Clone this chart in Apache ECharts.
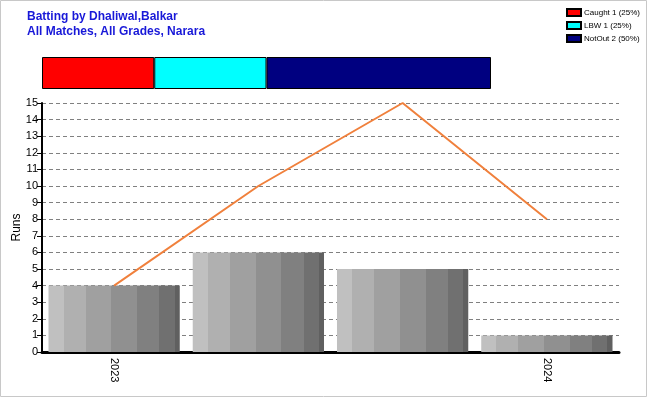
<!DOCTYPE html>
<html><head><meta charset="utf-8">
<script src="https://cdn.jsdelivr.net/npm/echarts@6/dist/echarts.min.js"></script>
<style>html,body{margin:0;padding:0;background:#fff}#c{width:650px;height:400px}</style>
</head><body><div id="c"></div>
<script>
const categories = ['2023', '2023-b', '2024-a', '2024'];
const tickLabels = ['2023', '', '', '2024'];
const barValues = [4, 6, 5, 1];
const lineValues = [4, 10, 15, 8];
const dismissalNames = ['Caught', 'LBW', 'NotOut'];
const dismissalCounts = [1, 1, 2];
const dismissalColors = ['#ff0000', '#00ffff', '#000080'];

const total = dismissalCounts.reduce((a, b) => a + b, 0);
const chart = echarts.init(document.getElementById('c'));
const stripes = ['#c0c0c0', '#b0b0b0', '#a0a0a0', '#909090', '#808080', '#707070', '#606060'];
const cuts = [0, 0.115, 0.282, 0.48, 0.676, 0.844, 0.96, 1];
const stops = [];
stripes.forEach((c, i) => { stops.push({offset: cuts[i], color: c}); stops.push({offset: cuts[i + 1], color: c}); });

const dismissalSeries = dismissalNames.map((n, i) => ({
  name: n + ' ' + dismissalCounts[i] + ' (' + Math.round(dismissalCounts[i] / total * 100) + '%)',
  type: 'bar', stack: 'd', xAxisIndex: 1, yAxisIndex: 1, barWidth: '100%',
  data: [dismissalCounts[i]],
  itemStyle: {color: dismissalColors[i], borderColor: '#000', borderWidth: 1},
  silent: true
}));

chart.setOption({
  animation: false,
  textStyle: {fontFamily: 'Arial, "Liberation Sans", sans-serif'},
  title: {
    text: 'Batting by Dhaliwal,Balkar\nAll Matches, All Grades, Narara',
    left: 22, top: 4,
    textStyle: {color: '#1818d8', fontSize: 12, fontWeight: 'bold', lineHeight: 15, fontFamily: 'Arial, "Liberation Sans", sans-serif'}
  },
  legend: {
    orient: 'vertical', left: 561, top: 3, itemGap: 4, itemWidth: 14, itemHeight: 7, icon: 'rect',
    textStyle: {fontSize: 8, color: '#000', padding: [0, 0, 0, -2]},
    data: dismissalSeries.map(s => s.name), selectedMode: false
  },
  grid: [
    {left: 42, right: 31, top: 103, bottom: 48, containLabel: false, outerBoundsMode: 'none'},
    {left: 42, right: 159, top: 57, height: 32, containLabel: false, outerBoundsMode: 'none'}
  ],
  xAxis: [
    {
      type: 'category', data: categories, gridIndex: 0,
      axisLine: {lineStyle: {color: '#000', width: 3}},
      axisTick: {alignWithLabel: true, length: 5, lineStyle: {color: '#000'}},
      axisLabel: {rotate: -90, fontSize: 11, color: '#000', margin: 6, interval: 0,
        formatter: (v, i) => tickLabels[i]}
    },
    {type: 'value', gridIndex: 1, min: 0, max: total, show: false}
  ],
  yAxis: [
    {
      type: 'value', gridIndex: 0, min: 0, max: 15, interval: 1,
      name: 'Runs', nameLocation: 'middle', nameGap: 19, nameRotate: 90, nameMoveOverlap: false,
      nameTextStyle: {fontSize: 12, color: '#000'},
      axisLine: {show: true, lineStyle: {color: '#000', width: 2}},
      axisTick: {show: true, length: 5, lineStyle: {color: '#000'}},
      axisLabel: {fontSize: 11, color: '#000', margin: 4},
      splitLine: {lineStyle: {color: '#808080', type: [4, 3], width: 1}}
    },
    {type: 'category', gridIndex: 1, data: ['d'], show: false}
  ],
  series: [
    {
      type: 'bar', data: barValues, barCategoryGap: '9%',
      itemStyle: {color: {type: 'linear', x: 0, y: 0, x2: 1, y2: 0, colorStops: stops}},
      silent: true
    },
    {
      type: 'line', data: lineValues, showSymbol: false, z: 5,
      lineStyle: {color: '#f0803c', width: 2}, silent: true
    }
  ].concat(dismissalSeries),
  graphic: [{
    type: 'rect', shape: {x: 0.5, y: 0.5, width: 646, height: 396},
    style: {fill: 'none', stroke: '#c8c8c8', lineWidth: 1}, silent: true
  }]
});
</script></body></html>
